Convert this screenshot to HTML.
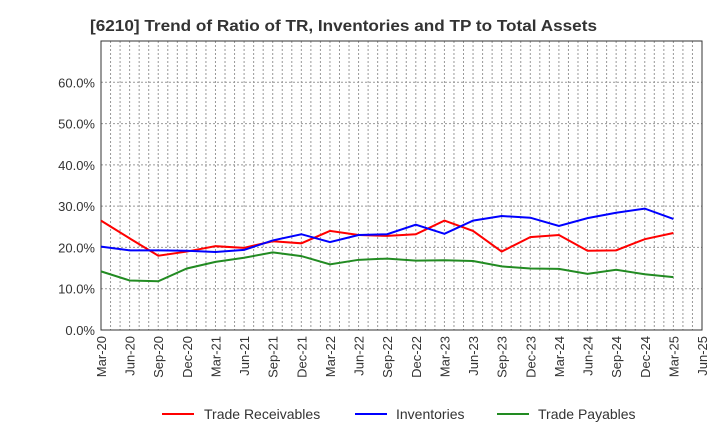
<!DOCTYPE html><html><head><meta charset="utf-8"><style>body{margin:0;background:#fff}svg{font-family:"Liberation Sans",sans-serif}</style></head><body>
<svg width="720" height="440">
<text x="90" y="31" font-size="16" font-weight="bold" fill="#333" textLength="507" lengthAdjust="spacingAndGlyphs">[6210]  Trend of Ratio of TR, Inventories and TP to Total Assets</text>
<g id="grid"></g><g id="axes"></g><g id="series"></g>
<g font-size="14" fill="#333">
<line x1="162" y1="414" x2="194" y2="414" stroke="#f00" stroke-width="2"/><text x="204" y="419">Trade Receivables</text>
<line x1="355" y1="414" x2="387" y2="414" stroke="#00f" stroke-width="2"/><text x="396" y="419">Inventories</text>
<line x1="497" y1="414" x2="529" y2="414" stroke="#228b22" stroke-width="2"/><text x="538" y="419">Trade Payables</text>
</g>
</svg>
<script>
const categories=["Mar-20","Jun-20","Sep-20","Dec-20","Mar-21","Jun-21","Sep-21","Dec-21","Mar-22","Jun-22","Sep-22","Dec-22","Mar-23","Jun-23","Sep-23","Dec-23","Mar-24","Jun-24","Sep-24","Dec-24","Mar-25","Jun-25"];
const receivables=[26.5,22.2,18,19,20.3,19.9,21.5,21,24,23,22.8,23.2,26.5,24,19,22.5,23,19.2,19.3,22,23.5];
const inventories=[20.2,19.3,19.3,19.2,18.9,19.4,21.7,23.2,21.3,23,23.2,25.5,23.3,26.5,27.6,27.2,25.2,27.1,28.4,29.4,26.9];
const payables=[14.2,12,11.8,14.9,16.5,17.5,18.8,17.9,15.9,17,17.3,16.8,16.9,16.7,15.4,14.9,14.8,13.6,14.6,13.5,12.8];
const yTicks=[0,10,20,30,40,50,60];
const L=101,R=702,T=41,B=330,YMAX=70;
const x=i=>L+i*(R-L)/(categories.length-1);
const y=v=>B-v*(B-T)/YMAX;
const NS="http://www.w3.org/2000/svg";
function mk(t,a,p){const e=document.createElementNS(NS,t);for(const k in a)e.setAttribute(k,a[k]);p.appendChild(e);return e;}
const g=document.getElementById('grid'),ax=document.getElementById('axes'),s=document.getElementById('series');
for(let m=1;m<(categories.length-1)*3;m++){const xx=L+m*(R-L)/((categories.length-1)*3);
const l=mk('line',{x1:xx,x2:xx,y1:T,y2:B,stroke:'#999','stroke-dasharray':'2,2','stroke-width':1},g);

}
yTicks.concat([70]).forEach(v=>{const l=mk('line',{x1:L,x2:R,y1:y(v),y2:y(v),stroke:'#999','stroke-dasharray':'2,2'},g);

});
yTicks.forEach(v=>{const t=mk('text',{x:L-6,y:y(v)+5,'text-anchor':'end','font-size':13,fill:'#333'},ax);t.textContent=v.toFixed(1)+'%';

});
categories.forEach((c,i)=>{const t=mk('text',{transform:`translate(${x(i)+5},${B+6}) rotate(-90)`,'text-anchor':'end','font-size':13,fill:'#333'},ax);t.textContent=c;

});
const fr=mk('rect',{x:L,y:T,width:R-L,height:B-T,fill:'none',stroke:'#333','stroke-width':1},ax);


[[receivables,'#f00','trade-receivables-line'],[inventories,'#00f','inventories-line'],[payables,'#228b22','trade-payables-line']].forEach(([d,c,n])=>{
const p=mk('polyline',{points:d.map((v,i)=>x(i)+','+y(v)).join(' '),fill:'none',stroke:c,'stroke-width':2},s);

});
</script>
</body></html>
